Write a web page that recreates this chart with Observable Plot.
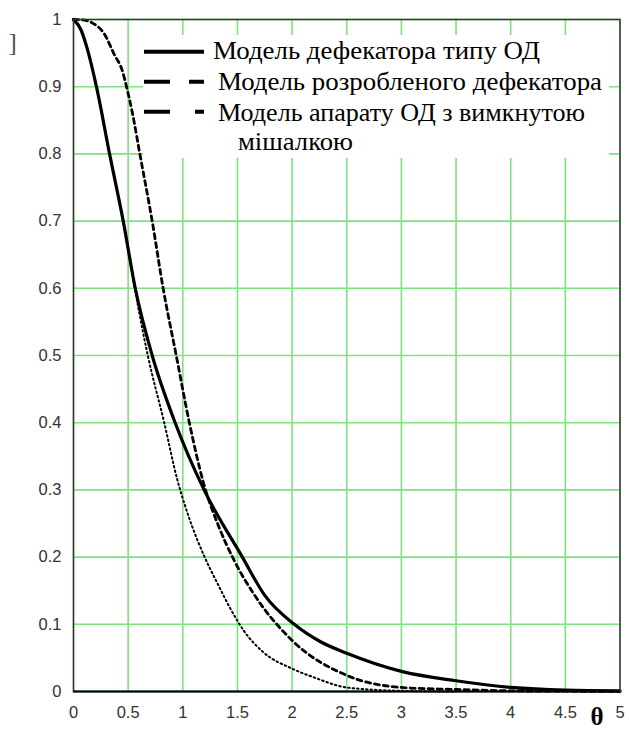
<!DOCTYPE html>
<html><head><meta charset="utf-8">
<script src="https://cdn.jsdelivr.net/npm/d3@7"></script>
<script src="https://cdn.jsdelivr.net/npm/@observablehq/plot@0.6"></script>
<style>
body{margin:0;background:#fff;}
#wrap{position:relative;width:629px;height:732px;overflow:hidden;background:#fff;}
#legend{position:absolute;left:143px;top:35px;}
</style></head><body>
<div id="wrap"></div>
<script>
// ---- data ----
const seriesNames = [
  "Модель дефекатора типу ОД",
  "Модель розробленого дефекатора",
  "Модель апарату ОД з вимкнутою",
  "мішалкою"
];
const solidTheta = [0, 0.07, 0.13, 0.21, 0.33, 0.455, 0.565, 0.72, 0.93, 1.195, 1.545, 1.75, 2.02, 2.26, 2.5, 3.0, 3.5, 4.0, 4.5, 5.0];
const solidValue = [1, 0.984, 0.954, 0.9, 0.8, 0.7, 0.6, 0.5, 0.4, 0.3, 0.2, 0.143, 0.1, 0.074, 0.057, 0.03, 0.016, 0.006, 0.002, 0.001];

const dashedTheta = [0, 0.1, 0.17, 0.28, 0.37, 0.45, 0.485, 0.54, 0.607, 0.72, 0.82, 0.94, 1.06, 1.19, 1.33, 1.47, 1.65, 2.0, 2.5, 3.0, 3.5, 4.0, 4.5, 5.0];
const dashedValue = [1, 0.999, 0.995, 0.979, 0.949, 0.922, 0.9, 0.86, 0.8, 0.7, 0.6, 0.5, 0.4, 0.31, 0.245, 0.195, 0.145, 0.076, 0.024, 0.006, 0.003, 0.001, 0.0005, 0];

const dottedTheta = [0, 0.07, 0.13, 0.21, 0.33, 0.455, 0.54, 0.6, 0.68, 0.83, 0.95, 1.05, 1.2, 1.32, 1.44, 1.56, 1.74, 2.0, 2.2, 2.5, 3.0, 3.5];
const dottedValue = [1, 0.984, 0.954, 0.9, 0.8, 0.7, 0.62, 0.565, 0.5, 0.4, 0.315, 0.262, 0.2, 0.16, 0.122, 0.09, 0.058, 0.034, 0.021, 0.006, 0.001, 0];

const xTicks = [0, 0.5, 1, 1.5, 2, 2.5, 3, 3.5, 4, 4.5, 5];
const yTicks = [0, 0.1, 0.2, 0.3, 0.4, 0.5, 0.6, 0.7, 0.8, 0.9, 1];
const xLabel = "θ";
const strayLabel = "]";

const toRows = (xs, ys) => xs.map((x, i) => ({x, y: ys[i]}));
const solid = toRows(solidTheta, solidValue);
const dashed = toRows(dashedTheta, dashedValue);
const dotted = toRows(dottedTheta, dottedValue);

const grid = "#7fe27f";

const chart = Plot.plot({
  width: 629,
  height: 732,
  marginLeft: 73,
  marginRight: 9.5,
  marginTop: 19,
  marginBottom: 41,
  x: {domain: [0, 5], label: null},
  y: {domain: [0, 1], label: null},
  style: {fontFamily: "'Liberation Sans', Arial, sans-serif", fontSize: "16px", background: "#fff", overflow: "visible"},
  marks: [
    Plot.ruleX(xTicks, {stroke: grid, strokeWidth: 1.6}),
    Plot.ruleY(yTicks, {stroke: grid, strokeWidth: 1.6}),
    Plot.line(dotted, {x: "x", y: "y", curve: "monotone-x", stroke: "#000", strokeWidth: 2, strokeDasharray: "1.5,3"}),
    Plot.line(dashed, {x: "x", y: "y", curve: "monotone-x", stroke: "#000", strokeWidth: 2.8, strokeDasharray: "5,4"}),
    Plot.line(solid, {x: "x", y: "y", curve: "monotone-x", stroke: "#000", strokeWidth: 3.2}),
    Plot.frame({stroke: "#333", strokeWidth: 1.5}),
    Plot.ruleY([0], {stroke: "#000", strokeWidth: 2}),
    Plot.axisX(xTicks, {label: null, tickSize: 0, tickPadding: 15, tickFormat: d => String(d), fill: "#333", fontSize: 16.5}),
    Plot.axisY(yTicks, {label: null, tickSize: 0, tickPadding: 12, tickFormat: d => String(d), fill: "#333", fontSize: 16.5}),
    Plot.text([xLabel], {frameAnchor: "bottom-right", dx: -23, dy: 25, lineAnchor: "middle", textAnchor: "middle", fontFamily: "'Liberation Serif', serif", fontWeight: "bold", fontSize: 25, fill: "#000"}),
    Plot.text([strayLabel], {frameAnchor: "top-left", dx: -61, dy: 23, lineAnchor: "middle", textAnchor: "middle", fontFamily: "'Liberation Serif', serif", fontSize: 26, fill: "#555"})
  ]
});
const wrap = document.getElementById("wrap");
wrap.appendChild(chart);

// ---- legend (white box over the grid) ----
const lg = d3.select(wrap).append("svg")
  .attr("id", "legend")
  .attr("width", 466).attr("height", 123)
  .style("background", "#fff")
  .style("font-family", "'Liberation Serif', 'Times New Roman', serif")
  .style("font-size", "24.5px");
const rows = [
  {dash: null, ly: 16.7, tx: 70, ty: 24.3, len: 327, text: seriesNames[0]},
  {dash: "26,19", ly: 46.7, tx: 75, ty: 55, len: 384, text: seriesNames[1]},
  {dash: "26,25", ly: 76.7, tx: 75, ty: 85.5, len: 367, text: seriesNames[2]},
  {dash: null, ly: null, tx: 95, ty: 115, len: 115, text: seriesNames[3]}
];
rows.forEach(r => {
  if (r.ly !== null) {
    lg.append("line").attr("x1", 1).attr("x2", 61).attr("y1", r.ly).attr("y2", r.ly)
      .attr("stroke", "#000").attr("stroke-width", 4)
      .attr("stroke-dasharray", r.dash);
  }
  lg.append("text").attr("x", r.tx).attr("y", r.ty).attr("fill", "#000")
    .attr("textLength", r.len).attr("lengthAdjust", "spacingAndGlyphs")
    .text(r.text);
});
</script>
</body></html>
